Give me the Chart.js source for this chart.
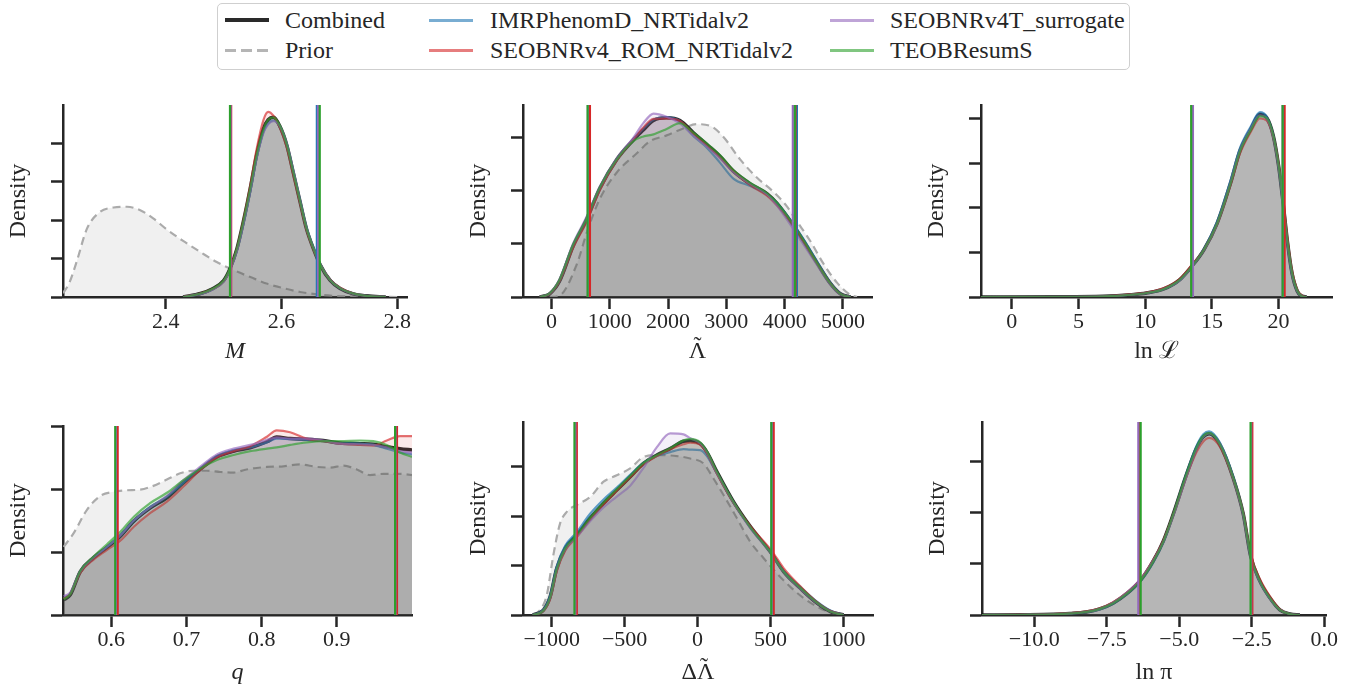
<!DOCTYPE html>
<html>
<head>
<meta charset="utf-8">
<title>Posterior densities</title>
<script src="https://cdn.jsdelivr.net/npm/chart.js@4.4.1/dist/chart.umd.min.js"></script>
<style>
  body { margin: 0; background: #ffffff; color: #262626; font-family: "Liberation Serif", serif; }
  #wrap { position: relative; width: 1360px; height: 694px; overflow: hidden; }
  canvas { position: absolute; }
  #legend { position: absolute; left: 217px; top: 3px; width: 911px; height: 65px; border: 1.5px solid #cfcfcf; border-radius: 5px; }
  .sw { position: absolute; width: 44px; height: 3px; }
  .lb { position: absolute; font-size: 24px; line-height: 28px; height: 28px; white-space: nowrap; }
</style>
</head>
<body>
<div id="wrap">
  <div id="legend"></div>
  <div class="sw" style="left:225px;top:18px;height:4px;background:#2a2a2a"></div>
  <div class="lb" style="left:285px;top:6px">Combined</div>
  <div class="sw" style="left:225px;top:49px;background:repeating-linear-gradient(90deg,#b5b5b5 0 11px,transparent 11px 16px)"></div>
  <div class="lb" style="left:285px;top:36px">Prior</div>
  <div class="sw" style="left:429px;top:19px;background:rgba(31,119,180,0.6)"></div>
  <div class="lb" style="left:490px;top:6px">IMRPhenomD_NRTidalv2</div>
  <div class="sw" style="left:429px;top:49px;background:rgba(214,39,40,0.6)"></div>
  <div class="lb" style="left:490px;top:36px">SEOBNRv4_ROM_NRTidalv2</div>
  <div class="sw" style="left:830px;top:19px;background:rgba(148,103,189,0.6)"></div>
  <div class="lb" style="left:890px;top:6px">SEOBNRv4T_surrogate</div>
  <div class="sw" style="left:830px;top:49px;background:rgba(44,160,44,0.6)"></div>
  <div class="lb" style="left:890px;top:36px">TEOBResumS</div>

  <canvas id="c0"></canvas>
  <canvas id="c1"></canvas>
  <canvas id="c2"></canvas>
  <canvas id="c3"></canvas>
  <canvas id="c4"></canvas>
  <canvas id="c5"></canvas>
</div>

<script>
// order of models everywhere: IMRPhenomD_NRTidalv2, SEOBNRv4_ROM_NRTidalv2, SEOBNRv4T_surrogate, TEOBResumS

// ---- M ----
const mX = [2.43, 2.46, 2.48, 2.50, 2.511, 2.523, 2.534, 2.546, 2.557, 2.569, 2.577, 2.586, 2.597, 2.609, 2.62, 2.632, 2.643, 2.655, 2.667, 2.684, 2.701, 2.724, 2.747, 2.78];
const mComb = [0, 0.09, 0.21, 0.43, 0.74, 1.26, 1.96, 2.83, 3.70, 4.39, 4.62, 4.68, 4.45, 3.96, 3.26, 2.48, 1.78, 1.26, 0.83, 0.43, 0.22, 0.08, 0.03, 0];
const mImr = [0, 0.08, 0.19, 0.40, 0.70, 1.20, 1.88, 2.74, 3.62, 4.30, 4.52, 4.60, 4.44, 3.98, 3.30, 2.52, 1.82, 1.29, 0.85, 0.45, 0.23, 0.09, 0.03, 0];
const mSeob = [0, 0.09, 0.20, 0.41, 0.72, 1.25, 1.98, 2.90, 3.85, 4.62, 4.82, 4.72, 4.42, 3.90, 3.20, 2.44, 1.76, 1.25, 0.84, 0.45, 0.24, 0.09, 0.03, 0];
const mSur = [0, 0.08, 0.19, 0.40, 0.71, 1.22, 1.90, 2.76, 3.62, 4.28, 4.50, 4.58, 4.46, 4.00, 3.32, 2.52, 1.81, 1.28, 0.84, 0.44, 0.23, 0.08, 0.03, 0];
const mTeob = [0, 0.09, 0.21, 0.43, 0.75, 1.27, 1.97, 2.84, 3.70, 4.38, 4.62, 4.68, 4.47, 3.98, 3.28, 2.50, 1.80, 1.27, 0.84, 0.44, 0.23, 0.09, 0.03, 0];
const mPriorX = [2.2226, 2.233, 2.246, 2.264, 2.287, 2.31, 2.333, 2.356, 2.379, 2.40, 2.43, 2.46, 2.488, 2.517, 2.546, 2.574, 2.603, 2.632, 2.661, 2.69, 2.72, 2.76, 2.80];
const mPriorY = [0.10, 0.35, 0.91, 1.78, 2.22, 2.33, 2.35, 2.26, 2.04, 1.78, 1.46, 1.17, 0.91, 0.70, 0.52, 0.35, 0.23, 0.13, 0.07, 0.03, 0.015, 0.005, 0];
const mLo = [2.512, 2.513, 2.512, 2.511];
const mHi = [2.661, 2.664, 2.663, 2.666];
const mTicks = [2.4, 2.6, 2.8];

// ---- Lambda tilde ----
const lX = [-200, -30, 140, 370, 600, 830, 1120, 1400, 1575, 1750, 1975, 2205, 2435, 2665, 2890, 3120, 3410, 3695, 3865, 4095, 4325, 4555, 4780, 4955, 5130];
const lComb = [0, 0.06, 0.30, 0.95, 1.45, 2.04, 2.58, 2.94, 3.13, 3.31, 3.36, 3.31, 3.08, 2.86, 2.64, 2.36, 2.12, 1.94, 1.76, 1.43, 1.05, 0.64, 0.26, 0.06, 0];
const lImr = [0, 0.06, 0.30, 0.95, 1.44, 2.02, 2.57, 2.95, 3.16, 3.33, 3.37, 3.30, 3.02, 2.80, 2.52, 2.22, 2.08, 1.92, 1.76, 1.45, 1.08, 0.67, 0.28, 0.07, 0];
const lSeob = [0, 0.06, 0.30, 0.92, 1.40, 2.00, 2.56, 2.95, 3.18, 3.34, 3.35, 3.30, 3.06, 2.84, 2.62, 2.36, 2.10, 1.90, 1.72, 1.42, 1.04, 0.63, 0.26, 0.06, 0];
const lSur = [0, 0.07, 0.34, 1.00, 1.50, 2.07, 2.60, 2.98, 3.26, 3.44, 3.38, 3.25, 3.02, 2.82, 2.60, 2.34, 2.12, 1.93, 1.72, 1.36, 0.98, 0.60, 0.24, 0.05, 0];
const lTeob = [0, 0.07, 0.33, 0.98, 1.47, 2.06, 2.58, 2.92, 3.01, 3.05, 3.15, 3.26, 3.08, 2.88, 2.66, 2.38, 2.14, 1.95, 1.77, 1.44, 1.06, 0.64, 0.26, 0.06, 0];
const lPriorX = [-30, 143, 430, 619, 830, 1117, 1460, 1690, 1976, 2262, 2491, 2720, 2950, 3236, 3522, 3809, 4038, 4210, 4439, 4668, 4897, 5126, 5240];
const lPriorY = [0, 0.03, 0.60, 1.25, 1.84, 2.33, 2.69, 2.92, 3.03, 3.16, 3.24, 3.21, 3.00, 2.58, 2.24, 1.97, 1.70, 1.42, 1.05, 0.62, 0.27, 0.04, 0];
const lLo = [630, 660, 625, 620];
const lHi = [4210, 4185, 4140, 4175];
const lTicks = [0, 1000, 2000, 3000, 4000, 5000];

// ---- ln L ----
const llX = [-2.3, 3, 6.9, 8.9, 10.1, 11.4, 12.6, 13.5, 14.4, 15.4, 16.4, 17.1, 17.9, 18.6, 19.1, 19.6, 20.0, 20.35, 20.65, 21.0, 21.4, 21.75, 22.1];
const llComb = [0, 0.003, 0.015, 0.05, 0.09, 0.18, 0.39, 0.69, 1.06, 1.66, 2.56, 3.28, 3.76, 4.10, 4.03, 3.62, 2.94, 2.08, 1.27, 0.54, 0.13, 0.02, 0];
const llImr = [0, 0.003, 0.014, 0.05, 0.09, 0.18, 0.38, 0.69, 1.08, 1.70, 2.62, 3.34, 3.82, 4.15, 4.05, 3.62, 2.92, 2.06, 1.25, 0.53, 0.13, 0.02, 0];
const llSeob = [0, 0.004, 0.017, 0.06, 0.10, 0.20, 0.41, 0.72, 1.06, 1.64, 2.52, 3.22, 3.70, 4.01, 3.96, 3.60, 2.98, 2.16, 1.34, 0.60, 0.16, 0.03, 0];
const llSur = [0, 0.003, 0.014, 0.05, 0.09, 0.18, 0.38, 0.68, 1.05, 1.65, 2.56, 3.28, 3.76, 4.08, 4.01, 3.60, 2.92, 2.06, 1.25, 0.53, 0.13, 0.02, 0];
const llTeob = [0, 0.003, 0.015, 0.05, 0.09, 0.18, 0.39, 0.69, 1.06, 1.66, 2.55, 3.27, 3.74, 4.06, 4.02, 3.63, 2.96, 2.10, 1.29, 0.56, 0.14, 0.02, 0];
const llLo = [13.55, 13.5, 13.58, 13.45];
const llHi = [20.35, 20.45, 20.3, 20.3];
const llTicks = [0, 5, 10, 15, 20];

// ---- q ----
const qX = [0.5366, 0.5455, 0.5588, 0.5765, 0.594, 0.612, 0.63, 0.652, 0.674, 0.696, 0.718, 0.7405, 0.7626, 0.7848, 0.807, 0.820, 0.838, 0.860, 0.882, 0.904, 0.931, 0.9487, 0.9665, 0.984, 1.0];
const qComb = [0.24, 0.32, 0.69, 0.91, 1.07, 1.25, 1.49, 1.70, 1.86, 2.10, 2.31, 2.51, 2.60, 2.655, 2.75, 2.825, 2.80, 2.79, 2.77, 2.73, 2.72, 2.71, 2.67, 2.64, 2.62];
const qImr = [0.27, 0.34, 0.68, 0.90, 1.08, 1.27, 1.50, 1.72, 1.88, 2.10, 2.32, 2.52, 2.62, 2.66, 2.74, 2.80, 2.79, 2.78, 2.76, 2.73, 2.72, 2.70, 2.64, 2.58, 2.55];
const qSeob = [0.26, 0.34, 0.67, 0.88, 1.03, 1.18, 1.40, 1.62, 1.80, 2.04, 2.30, 2.50, 2.60, 2.68, 2.83, 2.93, 2.90, 2.80, 2.76, 2.72, 2.70, 2.69, 2.77, 2.84, 2.84];
const qSur = [0.30, 0.36, 0.70, 0.92, 1.08, 1.26, 1.50, 1.71, 1.89, 2.14, 2.35, 2.55, 2.64, 2.70, 2.78, 2.82, 2.80, 2.80, 2.77, 2.72, 2.71, 2.70, 2.66, 2.60, 2.58];
const qTeob = [0.25, 0.33, 0.70, 0.93, 1.12, 1.32, 1.56, 1.78, 1.94, 2.14, 2.32, 2.46, 2.54, 2.60, 2.64, 2.66, 2.70, 2.74, 2.76, 2.76, 2.77, 2.76, 2.70, 2.58, 2.51];
const qPriorX = [0.5366, 0.55, 0.5677, 0.5854, 0.603, 0.621, 0.6386, 0.656, 0.674, 0.6917, 0.7094, 0.727, 0.745, 0.7626, 0.780, 0.807, 0.829, 0.851, 0.8734, 0.891, 0.909, 0.9266, 0.9443, 0.962, 0.984, 1.0];
const qPriorY = [1.08, 1.30, 1.67, 1.89, 1.955, 1.98, 1.99, 2.05, 2.15, 2.25, 2.29, 2.29, 2.27, 2.26, 2.31, 2.35, 2.36, 2.39, 2.35, 2.34, 2.37, 2.31, 2.22, 2.24, 2.24, 2.22];
const qLo = [0.6065, 0.6085, 0.6062, 0.6053];
const qHi = [0.978, 0.980, 0.978, 0.9775];
const qTicks = [0.6, 0.7, 0.8, 0.9];

// ---- Delta Lambda tilde ----
const dX = [-1130, -1057, -1011, -966, -908, -828, -737, -645, -554, -462, -371, -279, -188, -96, -50, 18, 64, 133, 247, 362, 506, 590, 705, 819, 911, 1002];
const dComb = [0, 0.10, 0.37, 0.94, 1.35, 1.62, 1.96, 2.26, 2.53, 2.80, 3.07, 3.24, 3.37, 3.52, 3.53, 3.47, 3.30, 2.90, 2.29, 1.79, 1.25, 0.88, 0.54, 0.24, 0.07, 0];
const dImr = [0, 0.11, 0.40, 0.98, 1.40, 1.68, 2.05, 2.34, 2.58, 2.84, 3.08, 3.22, 3.30, 3.36, 3.35, 3.34, 3.22, 2.86, 2.27, 1.78, 1.26, 0.90, 0.57, 0.27, 0.09, 0];
const dSeob = [0, 0.08, 0.32, 0.88, 1.30, 1.58, 1.93, 2.24, 2.52, 2.79, 3.05, 3.22, 3.36, 3.46, 3.49, 3.45, 3.28, 2.86, 2.27, 1.80, 1.31, 0.95, 0.58, 0.26, 0.08, 0];
const dSur = [0, 0.09, 0.35, 0.92, 1.33, 1.58, 1.90, 2.18, 2.40, 2.62, 2.98, 3.40, 3.68, 3.66, 3.58, 3.48, 3.30, 2.88, 2.28, 1.76, 1.24, 0.87, 0.53, 0.24, 0.07, 0];
const dTeob = [0, 0.09, 0.36, 0.93, 1.35, 1.62, 1.97, 2.28, 2.55, 2.82, 3.08, 3.24, 3.38, 3.54, 3.57, 3.50, 3.32, 2.90, 2.29, 1.78, 1.25, 0.88, 0.55, 0.25, 0.07, 0];
const dPriorX = [-1126, -1080, -1034, -989, -943, -897, -828, -737, -645, -554, -462, -371, -279, -142, -50, 41, 110, 178, 270, 362, 453, 545, 636, 728, 819, 911, 979];
const dPriorY = [0.01, 0.10, 0.40, 1.21, 1.85, 2.09, 2.23, 2.39, 2.70, 2.83, 2.97, 3.20, 3.24, 3.22, 3.17, 3.07, 2.76, 2.43, 1.96, 1.48, 1.15, 0.84, 0.57, 0.34, 0.17, 0.05, 0.01];
const dLo = [-840, -828, -838, -844];
const dHi = [508, 522, 510, 506];
const dTicks = [-1000, -500, 0, 500, 1000];

// ---- ln pi ----
const pX = [-11.8, -10.49, -9.34, -8.77, -8.20, -7.74, -7.28, -6.82, -6.33, -5.90, -5.55, -5.21, -4.75, -4.40, -4.17, -3.97, -3.60, -3.14, -2.79, -2.54, -2.22, -1.87, -1.53, -1.18, -0.84];
const pComb = [0, 0.005, 0.013, 0.03, 0.06, 0.12, 0.23, 0.41, 0.68, 1.05, 1.44, 1.96, 2.74, 3.26, 3.47, 3.53, 3.32, 2.67, 1.96, 1.15, 0.66, 0.33, 0.10, 0.02, 0];
const pImr = [0, 0.005, 0.012, 0.028, 0.055, 0.11, 0.22, 0.40, 0.66, 1.02, 1.41, 1.95, 2.76, 3.30, 3.52, 3.58, 3.36, 2.70, 1.97, 1.15, 0.65, 0.32, 0.10, 0.02, 0];
const pSeob = [0, 0.006, 0.016, 0.035, 0.07, 0.13, 0.25, 0.43, 0.70, 1.07, 1.45, 1.95, 2.70, 3.18, 3.38, 3.45, 3.28, 2.66, 1.98, 1.19, 0.70, 0.36, 0.11, 0.02, 0];
const pSur = [0, 0.005, 0.013, 0.03, 0.06, 0.12, 0.24, 0.43, 0.70, 1.06, 1.43, 1.93, 2.70, 3.24, 3.47, 3.54, 3.33, 2.66, 1.94, 1.13, 0.65, 0.32, 0.10, 0.02, 0];
const pTeob = [0, 0.005, 0.013, 0.03, 0.06, 0.12, 0.23, 0.41, 0.67, 1.04, 1.43, 1.96, 2.75, 3.27, 3.49, 3.55, 3.33, 2.68, 1.97, 1.16, 0.66, 0.33, 0.10, 0.02, 0];
const pLo = [-6.38, -6.36, -6.41, -6.33];
const pHi = [-2.52, -2.48, -2.52, -2.54];
const pTicks = [-10, -7.5, -5, -2.5, 0];

const lineCols = ['rgba(31,119,180,0.7)', 'rgba(214,39,40,0.65)', 'rgba(148,103,189,0.65)', 'rgba(44,160,44,0.65)'];
const fillCols = ['rgba(31,119,180,0.1)', 'rgba(214,39,40,0.1)', 'rgba(148,103,189,0.1)', 'rgba(44,160,44,0.1)'];
const ciCols = ['#1f77b4', '#d62728', '#9467bd', '#2ca02c'];
const ink = '#262626';
const serif = "'Liberation Serif', 'DejaVu Serif', serif";

// tilde labels are two stacked lines squeezed together: the accent sits over the Lambda
const tildeL = ['\u02DC', '\u039B'];
const tildeDL = ['\u2002\u02DC', '\u0394\u039B'];

const panels = [
  { box: [63, 105, 407, 297], xr: [2.2226, 2.8167], ymax: 5.0, yt: [0, 1, 2, 3, 4], xt: mTicks, dec: 1,
    label: 'M', ital: true, xH: 69,
    x: mX, comb: mComb, models: [mImr, mSeob, mSur, mTeob], prior: [mPriorX, mPriorY], lo: mLo, hi: mHi },
  { box: [523, 105, 872, 297], xr: [-488, 5498], ymax: 3.6, yt: [0, 1, 2, 3], xt: lTicks, dec: 0,
    label: tildeL, ital: false, xH: 69,
    x: lX, comb: lComb, models: [lImr, lSeob, lSur, lTeob], prior: [lPriorX, lPriorY], lo: lLo, hi: lHi },
  { box: [981, 105, 1332, 297], xr: [-2.3, 24.0], ymax: 4.31, yt: [0, 1, 2, 3, 4], xt: llTicks, dec: 0,
    label: 'ln \u2112', ital: false, xH: 69,
    x: llX, comb: llComb, models: [llImr, llSeob, llSur, llTeob], prior: null, lo: llLo, hi: llHi },
  { box: [63, 426, 412, 615], xr: [0.5358, 1.0], ymax: 3.0, yt: [0, 1, 2, 3], xt: qTicks, dec: 1,
    label: 'q', ital: true, xH: 72,
    x: qX, comb: qComb, models: [qImr, qSeob, qSur, qTeob], prior: [qPriorX, qPriorY], lo: qLo, hi: qHi },
  { box: [523, 422, 873, 615], xr: [-1197, 1203], ymax: 3.91, yt: [0, 1, 2, 3], xt: dTicks, dec: 0,
    label: tildeDL, ital: false, xH: 72,
    x: dX, comb: dComb, models: [dImr, dSeob, dSur, dTeob], prior: [dPriorX, dPriorY], lo: dLo, hi: dHi },
  { box: [982, 422, 1326, 615], xr: [-11.80, 0.06], ymax: 3.76, yt: [0, 1, 2, 3], xt: pTicks, dec: 1,
    label: 'ln \u03C0', ital: false, xH: 72,
    x: pX, comb: pComb, models: [pImr, pSeob, pSur, pTeob], prior: null, lo: pLo, hi: pHi }
];

function pts(xs, ys) {
  return xs.map((x, i) => ({ x: x, y: ys[i] }));
}

function fmt(v, dec) {
  const s = Math.abs(v).toFixed(dec);
  return v < 0 ? '\u2212' + s : s;
}

panels.forEach((p, k) => {
  const [L, T, R, B] = p.box;
  const yW = 60, xH = p.xH, padT = 10, padR = 30;
  const cv = document.getElementById('c' + k);
  cv.width = (R - L) + yW + padR;
  cv.height = (B - T) + padT + xH;
  cv.style.left = (L - yW) + 'px';
  cv.style.top = (T - padT) + 'px';

  const stacked = Array.isArray(p.label);
  const titleFont = stacked
    ? { family: serif, size: 24, lineHeight: 0.2 }
    : { family: serif, size: 24, style: p.ital ? 'italic' : 'normal' };
  const titlePad = stacked ? { top: 0, bottom: 12 } : { top: 0, bottom: 0 };

  // bottom to top
  const sets = [];
  if (p.prior) {
    sets.push({ data: pts(p.prior[0], p.prior[1]), borderColor: '#ababab', borderWidth: 2.2, borderDash: [8, 5],
      fill: 'origin', backgroundColor: 'rgba(0,0,0,0.06)' });
  }
  sets.push({ data: pts(p.x, p.comb), borderColor: 'rgba(20,20,20,0.9)', borderWidth: 3.5,
    fill: 'origin', backgroundColor: 'rgba(0,0,0,0.13)' });
  p.models.forEach((ys, j) => {
    sets.push({ data: pts(p.x, ys), borderColor: lineCols[j], borderWidth: 2.2,
      fill: 'origin', backgroundColor: fillCols[j] });
  });
  [p.lo, p.hi].forEach(arr => {
    arr.forEach((v, j) => {
      sets.push({ data: [{ x: v, y: 0 }, { x: v, y: p.ymax }], borderColor: ciCols[j], borderWidth: 2.2,
        fill: false, cubicInterpolationMode: 'default', tension: 0 });
    });
  });
  sets.forEach((s, i) => { s.order = sets.length - i; s.pointRadius = 0; if (!s.cubicInterpolationMode) s.cubicInterpolationMode = 'monotone'; });

  new Chart(cv, {
    type: 'line',
    data: { datasets: sets },
    options: {
      responsive: false,
      animation: false,
      events: [],
      layout: { padding: { left: 0, top: padT, right: padR, bottom: 0 } },
      plugins: { legend: { display: false }, tooltip: { enabled: false } },
      scales: {
        x: {
          type: 'linear', min: p.xr[0], max: p.xr[1],
          afterBuildTicks: s => { s.ticks = p.xt.map(v => ({ value: v })); },
          afterFit: s => { s.height = xH; },
          border: { display: true, color: ink, width: 2.5 },
          grid: { display: true, drawOnChartArea: false, drawTicks: true, tickLength: 12, tickWidth: 2.5, tickColor: ink },
          ticks: { autoSkip: false, maxRotation: 0, padding: 0, color: ink, font: { family: serif, size: 22 },
            callback: v => fmt(v, p.dec) },
          title: { display: true, text: p.label, color: ink, padding: titlePad, font: titleFont }
        },
        y: {
          type: 'linear', min: 0, max: p.ymax,
          afterBuildTicks: s => { s.ticks = p.yt.map(v => ({ value: v })); },
          afterFit: s => { s.width = yW; },
          border: { display: true, color: ink, width: 2.5 },
          grid: { display: true, drawOnChartArea: false, drawTicks: true, tickLength: 12, tickWidth: 2.5, tickColor: ink },
          ticks: { display: false },
          title: { display: true, text: 'Density', color: ink, padding: { top: 1, bottom: 0 },
            font: { family: serif, size: 24 } }
        }
      }
    }
  });
});
</script>
</body>
</html>
